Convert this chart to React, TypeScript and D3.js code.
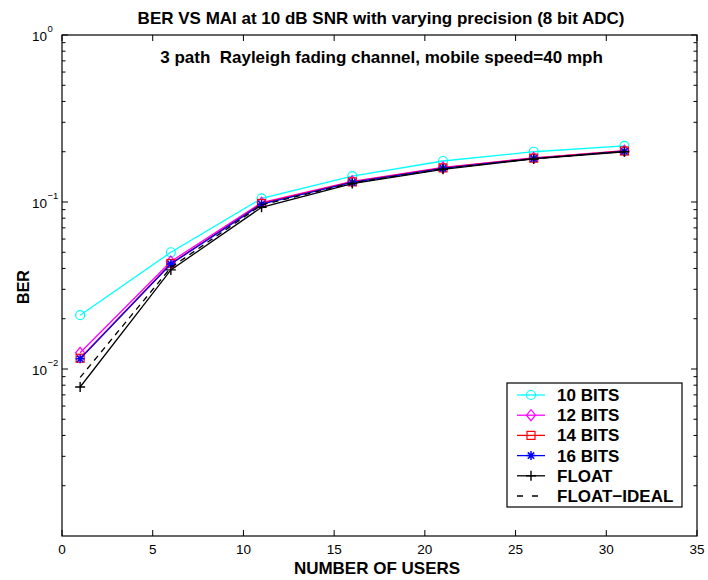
import React from "react";
import * as d3 from "d3";

const users = [1, 6, 11, 16, 21, 26, 31];
const bits10 = [0.021, 0.050, 0.105, 0.143, 0.176, 0.200, 0.217];
const bits12 = [0.0125, 0.0440, 0.099, 0.133, 0.161, 0.184, 0.203];
const bits14 = [0.0116, 0.0428, 0.098, 0.132, 0.160, 0.183, 0.202];
const bits16 = [0.0115, 0.0425, 0.097, 0.131, 0.159, 0.182, 0.201];
const floatV = [0.0078, 0.0392, 0.093, 0.129, 0.157, 0.181, 0.200];
const floatIdeal = [0.0089, 0.0405, 0.096, 0.130, 0.158, 0.182, 0.201];

const seriesNames = ["10 BITS", "12 BITS", "14 BITS", "16 BITS", "FLOAT", "FLOAT\u2212IDEAL"];
const xTicks = [0, 5, 10, 15, 20, 25, 30, 35];
const yMajor = [1, 0.1, 0.01];
const yLabelsExp = ["0", "\u22121", "\u22122"];

const W = 708, H = 580;
const L = 62, R = 697, T = 35, B = 536;
const FONT = "'Liberation Sans', Arial, Helvetica, sans-serif";

type S = { name: string; values: number[]; color: string; marker: string; dash?: string };

export default function App() {
  const x = d3.scaleLinear().domain([0, 35]).range([L, R]);
  const y = d3.scaleLog().domain([1e-3, 1]).range([B, T]);
  const series: S[] = [
    { name: seriesNames[0], values: bits10, color: "#00ffff", marker: "circle" },
    { name: seriesNames[1], values: bits12, color: "#ff00ff", marker: "diamond" },
    { name: seriesNames[2], values: bits14, color: "#ff0000", marker: "square" },
    { name: seriesNames[3], values: bits16, color: "#0000ff", marker: "star" },
    { name: seriesNames[4], values: floatV, color: "#000000", marker: "plus" },
    { name: seriesNames[5], values: floatIdeal, color: "#000000", marker: "none", dash: "6,5" },
  ];
  const line = d3.line<[number, number]>().x(d => x(d[0])).y(d => y(d[1]));

  const marker = (m: string, cx: number, cy: number, color: string, key: string) => {
    const sw = 1.2;
    if (m === "circle") return <circle key={key} cx={cx} cy={cy} r={4.5} fill="none" stroke={color} strokeWidth={sw} />;
    if (m === "diamond") return <path key={key} d={`M${cx},${cy - 5.5}L${cx + 4.5},${cy}L${cx},${cy + 5.5}L${cx - 4.5},${cy}Z`} fill="none" stroke={color} strokeWidth={sw} />;
    if (m === "square") return <rect key={key} x={cx - 4} y={cy - 4} width={8} height={8} fill="none" stroke={color} strokeWidth={sw} />;
    if (m === "star") {
      const r = 4.5, q = 3.2;
      return <path key={key} d={`M${cx - r},${cy}L${cx + r},${cy}M${cx},${cy - r}L${cx},${cy + r}M${cx - q},${cy - q}L${cx + q},${cy + q}M${cx - q},${cy + q}L${cx + q},${cy - q}`} stroke={color} strokeWidth={sw + 0.3} />;
    }
    if (m === "plus") {
      const r = 5;
      return <path key={key} d={`M${cx - r},${cy}L${cx + r},${cy}M${cx},${cy - r}L${cx},${cy + r}`} stroke={color} strokeWidth={sw + 0.2} />;
    }
    return null;
  };

  const minor: number[] = [];
  for (let e = -3; e < 0; e++) for (let k = 2; k <= 9; k++) minor.push(k * Math.pow(10, e));

  const legX = 507, legY = 383, legW = 175, legH = 124;
  const rowY = (i: number) => 395 + i * 20.2;

  return (
    <svg width={W} height={H} style={{ display: "block", position: "absolute", left: 0, top: 0 }} fontFamily={FONT}>
      <rect width={W} height={H} fill="#fff" />
      <text x={381} y={24} textAnchor="middle" fontSize={17} fontWeight="bold">BER VS MAI at 10 dB SNR with varying precision (8 bit ADC)</text>
      {xTicks.map(t => (
        <g key={"xt" + t}>
          <line x1={x(t)} x2={x(t)} y1={B} y2={B - 6} stroke="#000" />
          <line x1={x(t)} x2={x(t)} y1={T} y2={T + 6} stroke="#000" />
          <text x={x(t)} y={554} textAnchor="middle" fontSize={13.5}>{t}</text>
        </g>
      ))}
      {yMajor.map((v, i) => (
        <g key={"ym" + i}>
          <line x1={L} x2={L + 6} y1={y(v)} y2={y(v)} stroke="#000" />
          <line x1={R} x2={R - 6} y1={y(v)} y2={y(v)} stroke="#000" />
          <text x={47} y={y(v) + 6} textAnchor="end" fontSize={13.5}>10</text>
          <text x={47.5} y={y(v) - 3} textAnchor="start" fontSize={9.5}>{yLabelsExp[i]}</text>
        </g>
      ))}
      {minor.map((v, i) => (
        <g key={"mn" + i}>
          <line x1={L} x2={L + 3.5} y1={y(v)} y2={y(v)} stroke="#000" />
          <line x1={R} x2={R - 3.5} y1={y(v)} y2={y(v)} stroke="#000" />
        </g>
      ))}
      <text x={381.5} y={63} textAnchor="middle" fontSize={17} fontWeight="bold" style={{ whiteSpace: "pre" }}>{"3 path  Rayleigh fading channel, mobile speed=40 mph"}</text>
      {series.map(s => (
        <g key={s.name}>
          <path d={line(users.map((u, i) => [u, s.values[i]]) as [number, number][]) || ""} fill="none" stroke={s.color} strokeWidth={1.3} strokeDasharray={s.dash} />
          {users.map((u, i) => marker(s.marker, x(u), y(s.values[i]), s.color, s.name + i))}
        </g>
      ))}
      <rect x={L} y={T} width={R - L} height={B - T} fill="none" stroke="#000" strokeWidth={1.2} />
      <text x={377} y={574} textAnchor="middle" fontSize={17} fontWeight="bold">NUMBER OF USERS</text>
      <text transform={`translate(29,287) rotate(-90)`} textAnchor="middle" fontSize={16} fontWeight="bold">BER</text>
      <rect x={legX} y={legY} width={legW} height={legH} fill="#fff" stroke="#000" strokeWidth={1.2} />
      {series.map((s, i) => (
        <g key={"lg" + s.name}>
          <line x1={517} x2={545} y1={rowY(i)} y2={rowY(i)} stroke={s.color} strokeWidth={1.3} strokeDasharray={s.dash ? "6,9" : undefined} />
          {marker(s.marker, 531, rowY(i), s.color, "lm" + i)}
          <text x={557} y={rowY(i) + 6} fontSize={17} fontWeight="bold">{s.name}</text>
        </g>
      ))}
    </svg>
  );
}
